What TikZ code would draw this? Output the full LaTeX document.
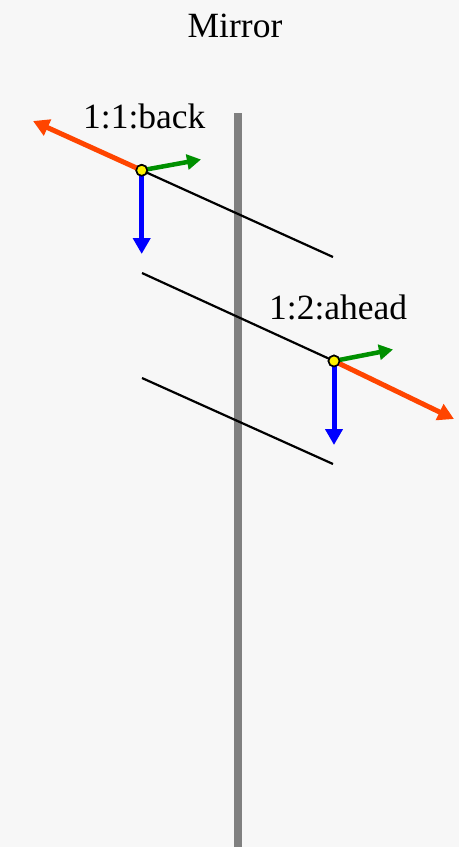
\documentclass[tikz,border=0pt]{standalone}
\usepackage{fontspec}
\setmainfont{Liberation Serif}
\usetikzlibrary{arrows.meta}
\definecolor{bgc}{HTML}{F7F7F7}
\definecolor{redax}{HTML}{FF4500}
\definecolor{greenax}{HTML}{009000}
\definecolor{mirrorc}{HTML}{808080}
\tikzset{
  axis/.style={line width=5pt, -{Triangle[length=16pt,width=17pt]}},
  gaxis/.style={line width=4.5pt, -{Triangle[length=14pt,width=15pt]}},
  seg/.style={line width=2.2pt, black},
  joint/.style={circle, draw=black, fill=yellow, line width=1.6pt, minimum size=11pt, inner sep=0pt},
  lbl/.style={font=\fontsize{35.5}{40}\selectfont, inner sep=0pt, anchor=base west}
}
\begin{document}
\begin{tikzpicture}[x=1pt,y=-1pt]
\useasboundingbox (0,0) rectangle (459,847);
\fill[bgc] (0,0) rectangle (459,847);
\coordinate (mtop) at (238,113);
\coordinate (mbot) at (238,847);
\draw[mirrorc, line width=8pt] (mtop) -- (mbot);
\node[font=\fontsize{35.5}{40}\selectfont, inner sep=0pt, anchor=base] (title) at (235,37) {Mirror};
% segments
\coordinate (a1) at (142,273); \coordinate (a2) at (333,360);
\coordinate (b1) at (142,378); \coordinate (b2) at (333,464);
\coordinate (c2) at (333,257);
\node[joint] (p1) at (141.7,170.3) {};
\node[joint] (p2) at (334,361) {};
\draw[seg] (p1.center) -- (c2);
\draw[seg] (a1) -- (p2.center);
\draw[seg] (b1) -- (b2);
% axes point 1
\coordinate (r1) at (33,121);
\coordinate (g1) at (201,159.5);
\coordinate (u1) at (141.7,254);
\draw[axis, redax] (p1.center) -- (r1);
\draw[axis, blue] (p1.center) -- (u1);
\draw[gaxis, greenax] (p1.center) -- (g1);
% axes point 2
\coordinate (r2) at (454,419);
\coordinate (g2) at (393,349.5);
\coordinate (u2) at (334,445);
\draw[axis, redax] (p2.center) -- (r2);
\draw[axis, blue] (p2.center) -- (u2);
\draw[gaxis, greenax] (p2.center) -- (g2);
\node[joint] at (p1) {};
\node[joint] at (p2) {};
\node[lbl] (l1) at (83,128) {1:1:back};
\node[lbl] (l2) at (269,319) {1:2:ahead};
\end{tikzpicture}
\end{document}
